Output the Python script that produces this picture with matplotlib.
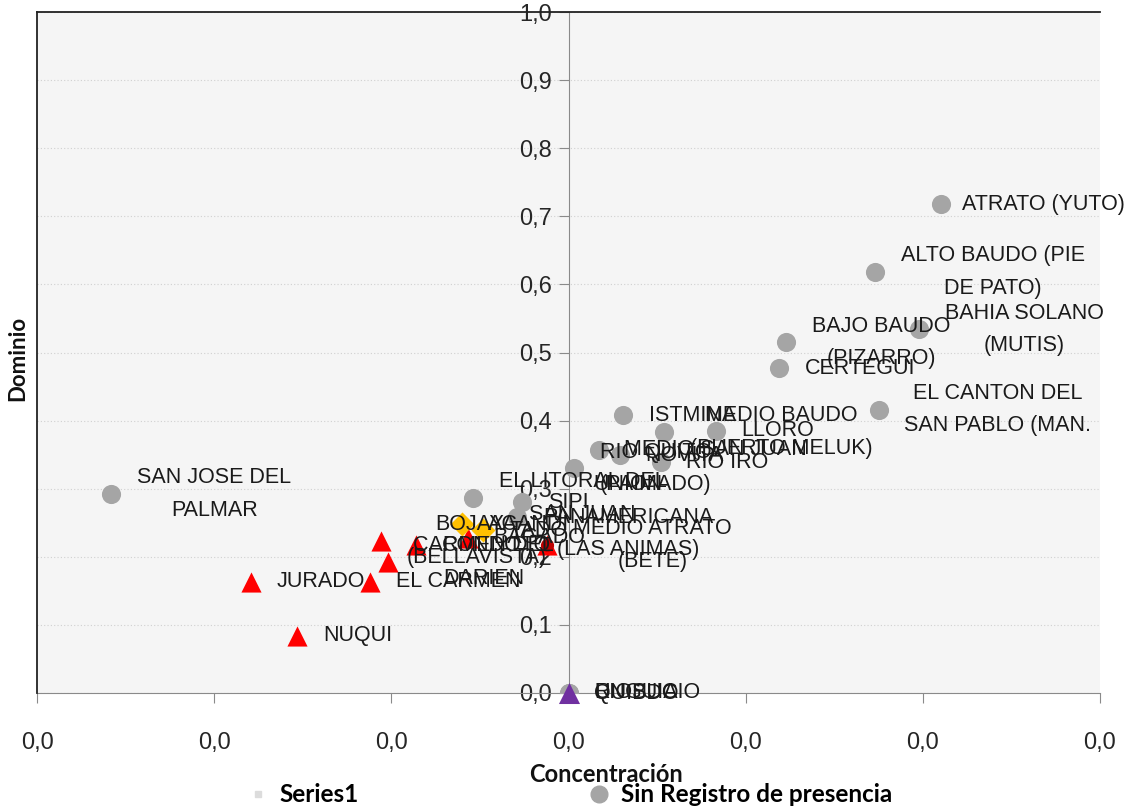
import matplotlib
matplotlib.use("Agg")
import matplotlib.pyplot as plt
from matplotlib.lines import Line2D
from matplotlib.ticker import FuncFormatter, MultipleLocator

# ---------------- data ----------------
gray_names = ["SAN JOSE DEL\nPALMAR", "ATRATO (YUTO)", "ALTO BAUDO (PIE\nDE PATO)",
              "BAHIA SOLANO\n(MUTIS)", "BAJO BAUDO\n(PIZARRO)", "CERTEGUI",
              "EL CANTON DEL\nSAN PABLO (MAN.", "ISTMINA", "MEDIO BAUDO\n(PUERTO MELUK)",
              "LLORO", "MEDIO SAN JUAN", "NOVITA", "RIO IRO", "RIO QUITO\n(PAIMADO)",
              "EL LITORAL DEL\nSAN JUAN", "SIPI", "UNION\nPANAMERICANA\n(LAS ANIMAS)",
              "QUIBDO", "RIOSUCIO"]
gray_x = [-0.0258, 0.0210, 0.0173, 0.0198, 0.0123, 0.0119, 0.0175, 0.0031, 0.0054,
          0.0083, 0.0017, 0.0029, 0.0052, 0.0003, -0.0054, -0.0026, -0.0029, 0.0, 0.0]
gray_y = [0.292, 0.718, 0.618, 0.534, 0.515, 0.477, 0.416, 0.408, 0.383,
          0.385, 0.357, 0.349, 0.339, 0.330, 0.286, 0.280, 0.258, 0.0, 0.0]

red_names = ["JURADO", "NUQUI", "EL CARMEN", "BOJAYA\n(BELLAVISTA)", "CARMEN DEL\nDARIEN",
             "CONDOTO", "BAGADO", "MEDIO ATRATO\n(BETE)"]
red_x = [-0.0179, -0.0153, -0.0112, -0.0106, -0.0102, -0.0086, -0.0057, -0.0012]
red_y = [0.163, 0.084, 0.163, 0.223, 0.192, 0.217, 0.228, 0.217]

darkred_x = [-0.0012]
darkred_y = [0.217]

yellow_names = ["ACANDI", "TADO"]
yellow_x = [-0.0060, -0.0048]
yellow_y = [0.248, 0.239]

purple_names = ["UNGUIA"]
purple_x = [0.0]
purple_y = [0.0]

x_ticks = [-0.03, -0.02, -0.01, 0.0, 0.01, 0.02, 0.03]
y_ticks = [0.0, 0.1, 0.2, 0.3, 0.4, 0.5, 0.6, 0.7, 0.8, 0.9, 1.0]

legend_labels = ["Series1", "Sin Registro de presencia"]

# ---------------- figure ----------------
W, H = 1130, 810
fig = plt.figure(figsize=(W / 100, H / 100), dpi=100)
ax = fig.add_axes([37 / W, 117 / H, 1063 / W, 681 / H])
ax.set_facecolor("#f5f5f5")
ax.set_xlim(-0.03, 0.03)
ax.set_ylim(0, 1)

# grid
ax.yaxis.set_major_locator(MultipleLocator(0.1))
ax.grid(axis="y", color="#d0d0d0", linestyle=(0, (1, 2)), linewidth=0.8, zorder=0)
ax.set_axisbelow(True)

# spines
ax.spines["left"].set_position(("data", 0))
ax.spines["left"].set_color("#8a8a8a")
ax.spines["bottom"].set_color("#8a8a8a")
ax.spines["right"].set_visible(False)
ax.spines["top"].set_color("#222222")
ax.spines["top"].set_linewidth(1.3)
ax.plot([0, 0], [0, 1], transform=ax.transAxes, color="#222222", lw=1.3, clip_on=False, zorder=6)

fmt = FuncFormatter(lambda v, p: f"{abs(v):.1f}".replace(".", ","))
ax.set_xticks(x_ticks)
ax.set_yticks(y_ticks)
ax.xaxis.set_major_formatter(fmt)
ax.yaxis.set_major_formatter(fmt)
for lab in ax.get_xticklabels() + ax.get_yticklabels():
    lab.set_fontfamily("Liberation Sans")
    lab.set_fontsize(17)
    lab.set_color("#262626")
ax.tick_params(axis="x", direction="out", length=7, color="#8a8a8a", pad=21)
ax.tick_params(axis="y", direction="out", length=7, color="#8a8a8a", pad=5)

# markers
ax.scatter(gray_x, gray_y, s=190, marker="o", color="#a5a5a5", zorder=3, linewidths=0)
ax.scatter(red_x, red_y, s=210, marker="^", color="#ff0000", zorder=3, linewidths=0)
ax.scatter(darkred_x, darkred_y, s=90, marker="o", color="#c00000", zorder=3.5, linewidths=0)
ax.scatter(yellow_x, yellow_y, s=150, marker="D", color="#ffc000", zorder=3, linewidths=0)
ax.scatter(purple_x, purple_y, s=230, marker="^", color="#7030a0", zorder=4, linewidths=0,
           clip_on=False)

label_kw = dict(textcoords="offset points", ha="left", va="center",
                multialignment="center", linespacing=1.72, fontsize=15.5,
                family="Liberation Sans", color="#1a1a1a", zorder=5,
                annotation_clip=False)
labels = []
for names, xs, ys in [(gray_names, gray_x, gray_y), (red_names, red_x, red_y),
                      (yellow_names, yellow_x, yellow_y), (purple_names, purple_x, purple_y)]:
    for n, xv, yv in zip(names, xs, ys):
        labels.append(ax.annotate(n, (xv, yv), xytext=(18.5, 0), **label_kw))

# keep labels inside the chart area (as the spreadsheet does)
fig.canvas.draw()
renderer = fig.canvas.get_renderer()
for t in labels:
    bb = t.get_window_extent(renderer)
    over = bb.x1 - (W - 5)
    if over > 0:
        t.xyann = (18.5 - over * 72 / 100, 0)

# axis titles
fig.text(606 / W, 1 - 775 / H, "Concentración", ha="center", va="center",
         fontsize=17, fontweight="bold", family="Lato", color="#111111")
fig.text(18 / W, 1 - 358 / H, "Dominio", ha="center", va="center", rotation=90,
         fontsize=16, fontweight="bold", family="Lato", color="#111111")

# legend
handles = [Line2D([], [], marker="s", color="#dcdcdc", markersize=4, linestyle="none"),
           Line2D([], [], marker="o", color="#a5a5a5", markersize=12, linestyle="none")]
fig.legend(handles, legend_labels, loc="center left", bbox_to_anchor=(243 / W, 1 - 795 / H),
           ncol=2, frameon=False, handlelength=1.0, handletextpad=0.4, columnspacing=9.4,
           prop=dict(family="Lato", weight="bold", size=17.5), borderpad=0.1,
           borderaxespad=0)

fig.savefig("out.png", dpi=100, facecolor="white")
